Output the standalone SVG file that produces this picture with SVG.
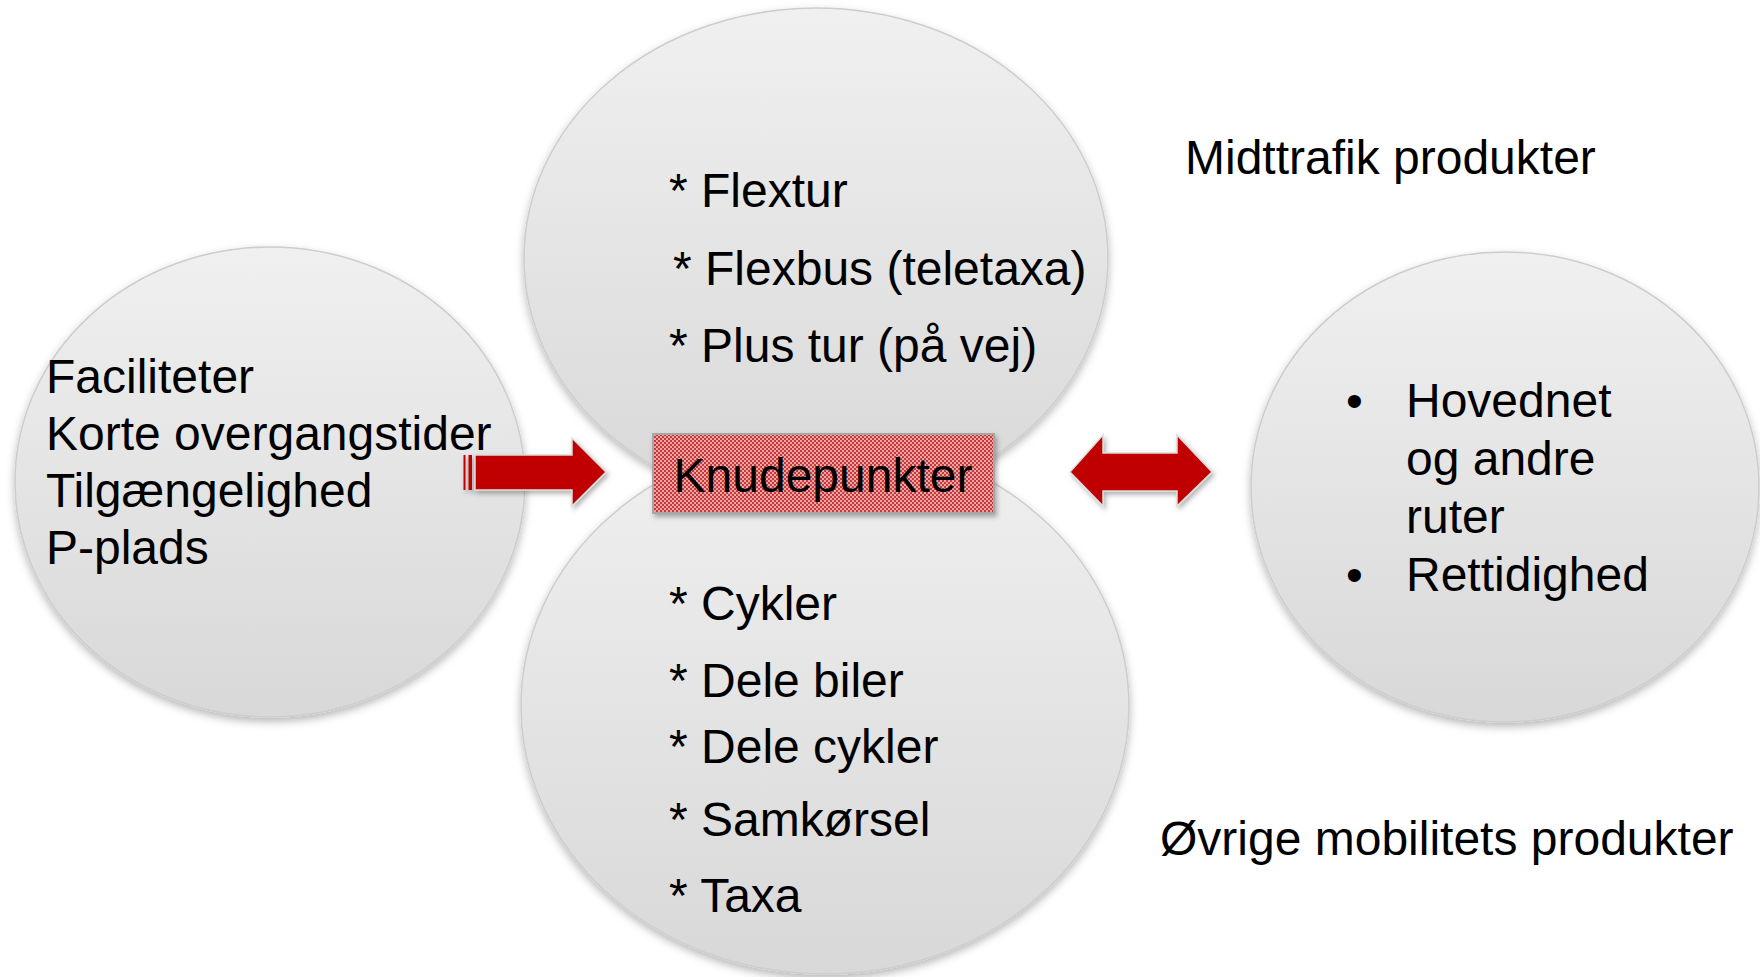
<svg xmlns="http://www.w3.org/2000/svg" width="1760" height="977" viewBox="0 0 1760 977">
<style>
.t{font-family:"Liberation Sans",Arial,sans-serif;font-size:48px;fill:#000}
.c{fill:url(#cg);stroke:#cdcdcd;stroke-width:1.5;filter:url(#sh)}
.ar{fill:#c00000;stroke:#dcdcdc;stroke-width:1.5}
</style>
<defs>
<linearGradient id="cg" x1="0" y1="0" x2="0" y2="1">
<stop offset="0" stop-color="#f0f0f0"/>
<stop offset="1" stop-color="#d8d8d8"/>
</linearGradient>
<pattern id="dots" width="4" height="4" patternUnits="userSpaceOnUse">
<rect width="4" height="4" fill="#c93838"/>
<rect width="2" height="2" fill="#eaa6a6"/>
<rect x="2" y="2" width="2" height="2" fill="#eaa6a6"/>
</pattern>
<filter id="sh" x="-10%" y="-10%" width="120%" height="125%">
<feDropShadow dx="0" dy="4" stdDeviation="4" flood-color="#000" flood-opacity="0.28"/>
</filter>
<filter id="ash" x="-10%" y="-20%" width="130%" height="150%">
<feDropShadow dx="2" dy="3" stdDeviation="2.5" flood-color="#000" flood-opacity="0.3"/>
</filter>
</defs>
<rect width="1760" height="977" fill="#fff"/>

<g id="node-left">
<ellipse class="c" cx="270" cy="482" rx="255" ry="235"/>
<text class="t" x="46" y="393">Faciliteter</text>
<text class="t" x="46" y="450">Korte overgangstider</text>
<text class="t" x="46" y="507">Tilgængelighed</text>
<text class="t" x="46" y="564">P-plads</text>
</g>

<g id="node-right">
<ellipse class="c" cx="1505" cy="487" rx="254" ry="235"/>
<text class="t" x="1346" y="417">•</text>
<text class="t" x="1406" y="417">Hovednet</text>
<text class="t" x="1406" y="475">og andre</text>
<text class="t" x="1406" y="533">ruter</text>
<text class="t" x="1346" y="591">•</text>
<text class="t" x="1406" y="591">Rettidighed</text>
</g>

<g id="node-top">
<ellipse class="c" cx="816" cy="258" rx="292" ry="250"/>
<text class="t" x="669" y="207">* Flextur</text>
<text class="t" x="673" y="285">* Flexbus (teletaxa)</text>
<text class="t" x="669" y="362">* Plus tur (på vej)</text>
</g>

<g id="node-bottom">
<ellipse class="c" cx="825" cy="706" rx="304" ry="268"/>
<text class="t" x="669" y="620">* Cykler</text>
<text class="t" x="669" y="697">* Dele biler</text>
<text class="t" x="669" y="763">* Dele cykler</text>
<text class="t" x="669" y="836">* Samkørsel</text>
<text class="t" x="669" y="912">* Taxa</text>
</g>

<g id="node-center">
<rect x="653" y="434" width="341" height="79" fill="url(#dots)" stroke="#a6a6a6" stroke-width="2" filter="url(#ash)"/>
<text class="t" x="823" y="492" text-anchor="middle">Knudepunkter</text>
</g>

<g id="label-midttrafik">
<text class="t" x="1185" y="174">Midttrafik produkter</text>
</g>
<g id="label-ovrige">
<text class="t" x="1160" y="855">Øvrige mobilitets produkter</text>
</g>

<g id="connectors">
<g filter="url(#ash)">
<polygon class="ar" points="475,455 572,455 572,438 606,472 572,506 572,490 475,490"/>
<rect x="463.5" y="455" width="2" height="35" fill="#c00000"/>
<rect x="468.5" y="455" width="3.5" height="35" fill="#c00000"/>
</g>
<polygon class="ar" filter="url(#ash)" points="1070,472 1103,435 1103,453 1177,453 1177,435 1212,472 1177,506 1177,491 1103,491 1103,506"/>
</g>
</svg>
